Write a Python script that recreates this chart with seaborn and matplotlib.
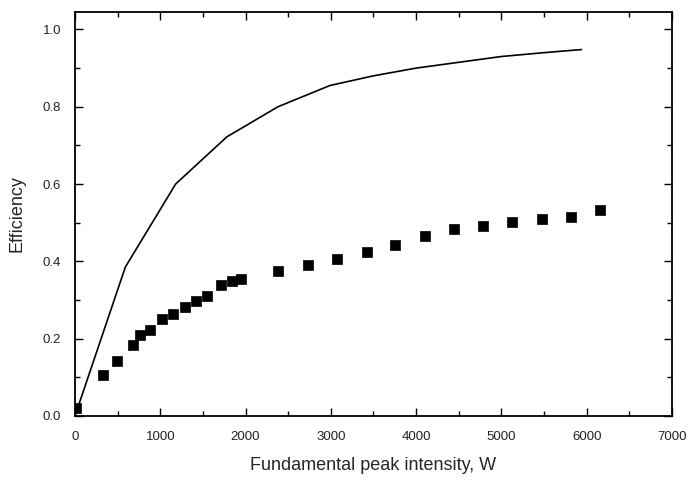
import numpy as np
import pandas as pd
import matplotlib
matplotlib.use("Agg")
import matplotlib.pyplot as plt
from matplotlib.ticker import MultipleLocator
import seaborn as sns

# Theory curve
line_x = [0, 590, 1180, 1780, 2380, 2990, 3500, 4000, 4500, 5000, 5500, 5940]
line_y = [0.0, 0.385, 0.600, 0.722, 0.800, 0.855, 0.880, 0.900, 0.915, 0.930, 0.940, 0.948]

# Measured points
pts_x = [15, 324, 488, 676, 762, 879, 1016, 1152, 1290, 1418, 1543, 1711, 1836, 1946,
         2384, 2735, 3075, 3419, 3751, 4103, 4443, 4787, 5119, 5471, 5811, 6155]
pts_y = [0.020, 0.106, 0.142, 0.184, 0.210, 0.222, 0.251, 0.264, 0.281, 0.296, 0.311,
         0.339, 0.349, 0.354, 0.376, 0.391, 0.406, 0.423, 0.442, 0.466, 0.484, 0.491,
         0.503, 0.510, 0.514, 0.533]

x_label = "Fundamental peak intensity, W"
y_label = "Efficiency"

sns.set_theme(style="white")
plt.rcParams['font.family'] = ['Liberation Sans', 'DejaVu Sans']

fig = plt.figure(figsize=(6.92, 4.83), dpi=100)
ax = fig.add_axes([0.1084, 0.139, 0.8626, 0.836])

df_line = pd.DataFrame({"x": line_x, "y": line_y})
df_pts = pd.DataFrame({"x": pts_x, "y": pts_y})

sns.lineplot(data=df_line, x="x", y="y", ax=ax, color="black", linewidth=1.2, sort=False)
sns.scatterplot(data=df_pts, x="x", y="y", ax=ax, marker="s", s=50, color="black",
                edgecolor="black", linewidth=0.5, zorder=3, clip_on=True)

ax.set_xlim(0, 7000)
ax.set_ylim(0, 1.045)
ax.xaxis.set_major_locator(MultipleLocator(1000))
ax.xaxis.set_minor_locator(MultipleLocator(500))
ax.yaxis.set_major_locator(MultipleLocator(0.2))
ax.yaxis.set_minor_locator(MultipleLocator(0.1))
ax.yaxis.set_major_formatter(matplotlib.ticker.FormatStrFormatter('%.1f'))

ax.tick_params(which="both", direction="in", top=True, right=True, bottom=True, left=True,
               colors="black", labelsize=9.5)
ax.tick_params(which="major", length=6, width=1.0)
ax.tick_params(which="minor", length=3.5, width=1.0)
for lab in ax.get_xticklabels() + ax.get_yticklabels():
    lab.set_color("#222222")
ax.tick_params(axis="x", pad=11)
ax.tick_params(axis="y", pad=10)

for sp in ax.spines.values():
    sp.set_color("black")
    sp.set_linewidth(1.3)

ax.set_xlabel(x_label, fontsize=13, labelpad=10)
ax.set_ylabel(y_label, fontsize=13, labelpad=12)

fig.savefig("out.png", dpi=100, facecolor="white")
